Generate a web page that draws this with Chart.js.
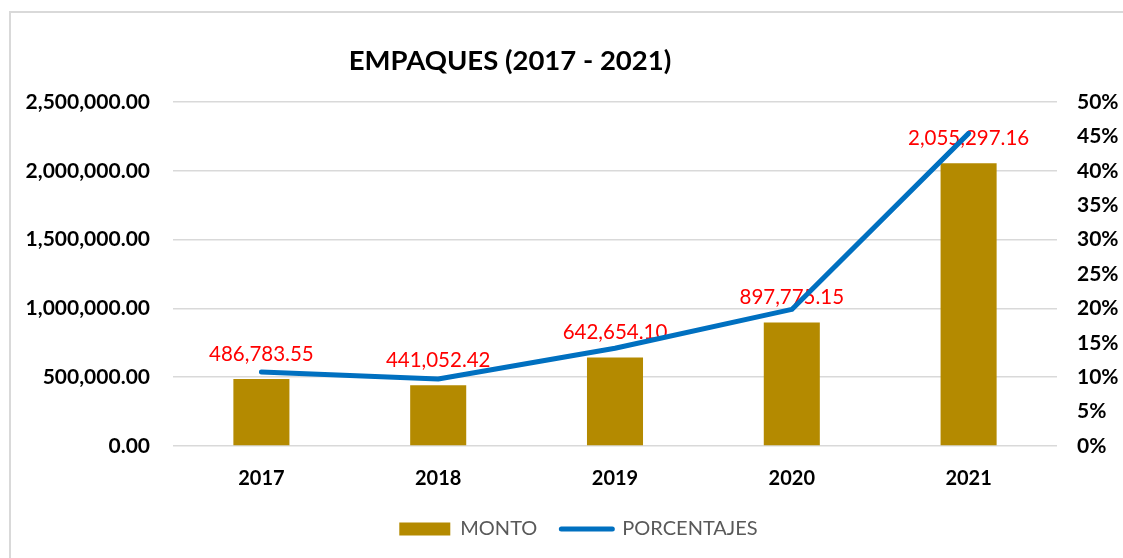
<!DOCTYPE html>
<html>
<head>
<meta charset="utf-8">
<script src="https://cdn.jsdelivr.net/npm/chart.js@4.4.1/dist/chart.umd.min.js"></script>
<style>
  html, body { margin: 0; padding: 0; background: #fff; overflow: hidden; }
  #wrap { position: relative; width: 1123px; height: 558px; }
  #frame { position: absolute; left: 9px; top: 11px; width: 1200px; height: 600px; border: 2px solid #D9D9D9; box-sizing: border-box; }
  canvas { position: absolute; left: 0; top: 0; }
</style>
</head>
<body>
<div id="wrap">
  <div id="frame"></div>
  <canvas id="c" width="1123" height="558"></canvas>
</div>
<script>
const categories = ['2017', '2018', '2019', '2020', '2021'];
const montoValues = [486783.55, 441052.42, 642654.10, 897775.15, 2055297.16];
const porcentajeValues = [0.1076, 0.0975, 0.1421, 0.1985, 0.4544];
const leftTicks = [0, 500000, 1000000, 1500000, 2000000, 2500000];
const rightTicks = [0, 0.05, 0.10, 0.15, 0.20, 0.25, 0.30, 0.35, 0.40, 0.45, 0.50];
const chartTitle = 'EMPAQUES (2017 - 2021)';
const seriesNames = ['MONTO', 'PORCENTAJES'];

const FONT = 'Lato, "Open Sans", sans-serif';
const GOLD = '#B48A00';
const BLUE = '#0070C0';
const GRID = '#D9D9D9';

const fmtMoney = v => Number(v).toLocaleString('en-US', { minimumFractionDigits: 2, maximumFractionDigits: 2 });
const fmtPct = v => Math.round(v * 100) + '%';

const titlePlugin = {
  id: 'customTitle',
  afterDraw(chart) {
    const ctx = chart.ctx;
    ctx.save();
    ctx.font = 'bold 27.5px ' + FONT;
    ctx.fillStyle = '#000';
    ctx.textAlign = 'center';
    ctx.textBaseline = 'middle';
    ctx.fillText(chartTitle, 510, 61);
    ctx.restore();
  }
};

const barLabelPlugin = {
  id: 'barLabels',
  afterDatasetDraw(chart, args) {
    if (args.index !== 0) return;
    const ctx = chart.ctx;
    const meta = chart.getDatasetMeta(0);
    ctx.save();
    ctx.font = '20.5px ' + FONT;
    ctx.fillStyle = '#FF0000';
    ctx.textAlign = 'center';
    ctx.textBaseline = 'middle';
    meta.data.forEach((bar, i) => {
      ctx.fillText(fmtMoney(montoValues[i]), bar.x, bar.y - 25);
    });
    ctx.restore();
  }
};

const legendShift = {
  id: 'legendShift',
  afterLayout(chart) {
    if (chart.legend) { chart.legend.left += 17; chart.legend.right += 17; }
  }
};

new Chart(document.getElementById('c'), {
  type: 'bar',
  data: {
    labels: categories,
    datasets: [
      {
        type: 'bar',
        label: seriesNames[0],
        data: montoValues,
        backgroundColor: GOLD,
        borderWidth: 0,
        yAxisID: 'y',
        order: 2,
        barPercentage: 1,
        categoryPercentage: 0.317
      },
      {
        type: 'line',
        label: seriesNames[1],
        data: porcentajeValues,
        borderColor: BLUE,
        backgroundColor: BLUE,
        borderWidth: 5,
        borderCapStyle: 'round',
        borderJoinStyle: 'round',
        pointRadius: 0,
        tension: 0,
        fill: false,
        yAxisID: 'y1',
        order: 1
      }
    ]
  },
  options: {
    responsive: false,
    animation: false,
    devicePixelRatio: 1,
    layout: { padding: { top: 102, left: 0, right: 0, bottom: 9 } },
    plugins: {
      title: { display: false },
      tooltip: { enabled: false },
      legend: {
        display: true,
        position: 'bottom',
        labels: {
          usePointStyle: true,
          pointStyleWidth: 51,
          boxHeight: 13,
          padding: 24,
          color: '#595959',
          font: { family: FONT, size: 20 },
          generateLabels() {
            return [
              { text: seriesNames[0], fillStyle: GOLD, strokeStyle: GOLD, lineWidth: 0, pointStyle: 'rect', fontColor: '#595959', datasetIndex: 0 },
              { text: seriesNames[1], fillStyle: BLUE, strokeStyle: BLUE, lineWidth: 5, lineCap: 'round', pointStyle: 'line', fontColor: '#595959', datasetIndex: 1 }
            ];
          }
        }
      }
    },
    scales: {
      x: {
        grid: { display: false, drawTicks: false },
        border: { display: false },
        ticks: { color: '#000', font: { family: FONT, size: 20, weight: 'bold' }, padding: 21 },
        afterFit(s) { s.height = 49; }
      },
      y: {
        position: 'left',
        min: 0, max: 2500000,
        afterBuildTicks(s) { s.ticks = leftTicks.map(v => ({ value: v })); },
        grid: { color: GRID, lineWidth: 1.5, drawTicks: false },
        border: { display: false },
        ticks: { color: '#000', font: { family: FONT, size: 21, weight: 'bold' }, padding: 23, callback: v => fmtMoney(v) },
        afterFit(s) { s.width = 173; }
      },
      y1: {
        position: 'right',
        min: 0, max: 0.5,
        afterBuildTicks(s) { s.ticks = rightTicks.map(v => ({ value: v })); },
        grid: { display: false, drawTicks: false },
        border: { display: false },
        ticks: { color: '#000', font: { family: FONT, size: 21, weight: 'bold' }, padding: 20, callback: v => fmtPct(v) },
        afterFit(s) { s.width = 66; }
      }
    }
  },
  plugins: [titlePlugin, barLabelPlugin, legendShift]
});
</script>
</body>
</html>
